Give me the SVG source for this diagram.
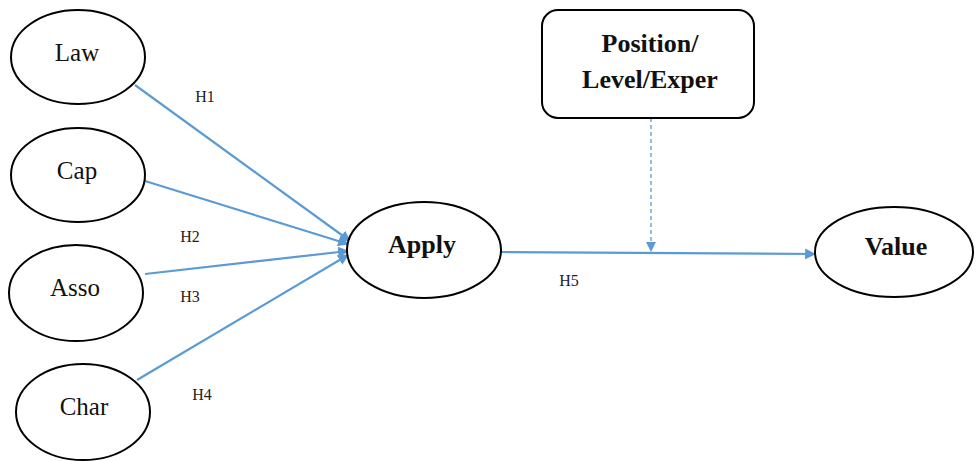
<svg xmlns="http://www.w3.org/2000/svg" width="976" height="461" viewBox="0 0 976 461">
<defs>
<style>
.n{fill:#fff;stroke:#000;stroke-width:2}
.t{font-family:"Liberation Serif",serif;font-size:25px;fill:#111;text-anchor:middle;dominant-baseline:central}
.b{font-weight:bold;font-size:26px}
.h{font-family:"Liberation Serif",serif;font-size:16px;fill:#222;text-anchor:middle}
.c{stroke:#5b9bd5;stroke-width:2.2;fill:none}
</style>
<marker id="a" viewBox="0 0 10 10" refX="9" refY="5" markerWidth="5" markerHeight="5" orient="auto" markerUnits="strokeWidth">
<path d="M0,0 L10,5 L0,10 z" fill="#5b9bd5"/>
</marker>
<marker id="d" viewBox="0 0 10 10" refX="9" refY="5" markerWidth="8" markerHeight="8" orient="auto" markerUnits="strokeWidth">
<path d="M0,0 L10,5 L0,10 z" fill="#5b9bd5"/>
</marker>
</defs>
<g id="connectors">
<line class="c" x1="135" y1="85" x2="350" y2="241" marker-end="url(#a)"/>
<line class="c" x1="145" y1="181" x2="348" y2="244" marker-end="url(#a)"/>
<line class="c" x1="145" y1="274" x2="348" y2="251" marker-end="url(#a)"/>
<line class="c" x1="137" y1="380" x2="348" y2="255" marker-end="url(#a)"/>
<line class="c" x1="501" y1="252" x2="815" y2="254" marker-end="url(#a)"/>
<line class="c" x1="651" y1="118" x2="651" y2="251" stroke-dasharray="4,3" marker-end="url(#d)" style="stroke-width:1.3"/>
</g>
<g id="labels">
<text class="h" x="205" y="102">H1</text>
<text class="h" x="190" y="242">H2</text>
<text class="h" x="190" y="302">H3</text>
<text class="h" x="202" y="400">H4</text>
<text class="h" x="569" y="286">H5</text>
</g>
<g id="law"><ellipse class="n" cx="78" cy="57" rx="67" ry="47"/><text class="t" x="77" y="52">Law</text></g>
<g id="cap"><ellipse class="n" cx="78" cy="175" rx="67" ry="47"/><text class="t" x="77" y="170">Cap</text></g>
<g id="asso"><ellipse class="n" cx="76" cy="293" rx="67" ry="48"/><text class="t" x="75" y="287">Asso</text></g>
<g id="char"><ellipse class="n" cx="83" cy="412" rx="67" ry="48"/><text class="t" x="84" y="406">Char</text></g>
<g id="apply"><ellipse class="n" cx="424" cy="250" rx="77" ry="48"/><text class="t b" x="422" y="244">Apply</text></g>
<g id="value"><ellipse class="n" cx="894" cy="252" rx="79" ry="45"/><text class="t b" x="896" y="246">Value</text></g>
<g id="position"><rect class="n" x="542" y="10" width="212" height="108" rx="16"/><text class="t b" x="650" y="43">Position/</text><text class="t b" x="650" y="79">Level/Exper</text></g>
</svg>
